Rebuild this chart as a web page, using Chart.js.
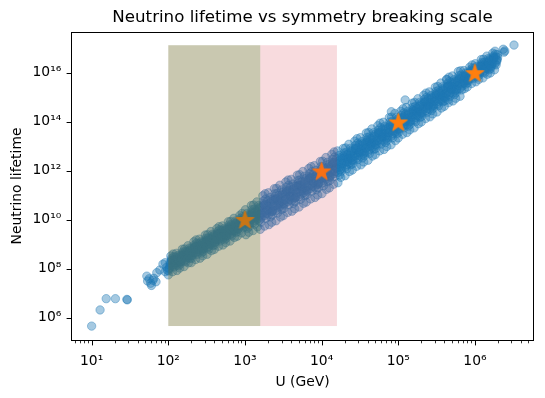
<!DOCTYPE html>
<html>
<head>
<meta charset="utf-8">
<script src="https://cdn.jsdelivr.net/npm/chart.js@4.4.1/dist/chart.umd.min.js"></script>
<style>
html,body{margin:0;padding:0;background:#ffffff;}
#box{position:relative;width:545px;height:398px;}
</style>
</head>
<body>
<div id="box"><canvas id="chart" width="545" height="398"></canvas></div>
<script>
// ---------------- data (log10 of U in GeV, log10 of lifetime) ----------------
const logU = [
1.00,1.11,1.19,1.31,1.46,1.465,1.72,1.73,1.77,1.78,1.81,1.84,1.85,1.89,1.93,1.96,1.96,1.80,1.75,1.98,1.99,
2.000,2.027,2.013,2.040,2.006,2.033,2.020,2.046, 2.010,2.023,2.036,2.043,
2.050,2.077,2.063,2.090,2.056,2.083,2.070,2.096, 2.060,2.073,2.086,2.093,
2.100,2.127,2.113,2.140,2.106,2.133,2.120,2.146, 2.110,2.123,2.136,2.143,
2.150,2.177,2.163,2.190,2.156,2.183,2.170,2.196, 2.160,2.173,2.186,2.193,
2.200,2.227,2.213,2.240,2.206,2.233,2.220,2.246, 2.210,2.223,2.236,2.243,
2.250,2.277,2.263,2.290,2.256,2.283,2.270,2.296, 2.260,2.273,2.286,2.293,
2.300,2.327,2.313,2.340,2.306,2.333,2.320,2.346, 2.310,2.323,2.336,2.343,
2.350,2.377,2.363,2.390,2.356,2.383,2.370,2.396, 2.360,2.373,2.386,2.393,
2.400,2.427,2.413,2.440,2.406,2.433,2.420,2.446, 2.410,2.423,2.436,2.443,
2.450,2.477,2.463,2.490,2.456,2.483,2.470,2.496, 2.460,2.473,2.486,2.493,
2.500,2.527,2.513,2.540,2.506,2.533,2.520,2.546, 2.510,2.523,2.536,2.543,
2.550,2.577,2.563,2.590,2.556,2.583,2.570,2.596, 2.560,2.573,2.586,2.593,
2.600,2.627,2.613,2.640,2.606,2.633,2.620,2.646, 2.610,2.623,2.636,2.643,
2.650,2.677,2.663,2.690,2.656,2.683,2.670,2.696, 2.660,2.673,2.686,2.693,
2.700,2.727,2.713,2.740,2.706,2.733,2.720,2.746, 2.710,2.723,2.736,2.743,
2.750,2.777,2.763,2.790,2.756,2.783,2.770,2.796, 2.760,2.773,2.786,2.793,
2.800,2.827,2.813,2.840,2.806,2.833,2.820,2.846, 2.810,2.823,2.836,2.843,
2.850,2.877,2.863,2.890,2.856,2.883,2.870,2.896, 2.860,2.873,2.886,2.893,
2.900,2.927,2.913,2.940,2.906,2.933,2.920,2.946, 2.910,2.923,2.936,2.943,
2.950,2.977,2.963,2.990,2.956,2.983,2.970,2.996, 2.960,2.973,2.986,2.993,
3.000,3.027,3.013,3.040,3.006,3.033,3.020,3.046, 3.010,3.023,3.036,3.043,
3.050,3.077,3.063,3.090,3.056,3.083,3.070,3.096, 3.060,3.073,3.086,3.093,
3.100,3.127,3.113,3.140,3.106,3.133,3.120,3.146, 3.110,3.123,3.136,3.143,
3.150,3.177,3.163,3.190,3.156,3.183,3.170,3.196, 3.160,3.173,3.186,3.193,
3.200,3.227,3.213,3.240,3.206,3.233,3.220,3.246, 3.210,3.223,3.236,3.243,
3.250,3.277,3.263,3.290,3.256,3.283,3.270,3.296, 3.260,3.273,3.286,3.293,
3.300,3.327,3.313,3.340,3.306,3.333,3.320,3.346, 3.310,3.323,3.336,3.343,
3.350,3.377,3.363,3.390,3.356,3.383,3.370,3.396, 3.360,3.373,3.386,3.393,
3.400,3.427,3.413,3.440,3.406,3.433,3.420,3.446, 3.410,3.423,3.436,3.443,
3.450,3.477,3.463,3.490,3.456,3.483,3.470,3.496, 3.460,3.473,3.486,3.493,
3.500,3.527,3.513,3.540,3.506,3.533,3.520,3.546, 3.510,3.523,3.536,3.543,
3.550,3.577,3.563,3.590,3.556,3.583,3.570,3.596, 3.560,3.573,3.586,3.593,
3.600,3.627,3.613,3.640,3.606,3.633,3.620,3.646, 3.610,3.623,3.636,3.643,
3.650,3.677,3.663,3.690,3.656,3.683,3.670,3.696, 3.660,3.673,3.686,3.693,
3.700,3.727,3.713,3.740,3.706,3.733,3.720,3.746, 3.710,3.723,3.736,3.743,
3.750,3.777,3.763,3.790,3.756,3.783,3.770,3.796, 3.760,3.773,3.786,3.793,
3.800,3.827,3.813,3.840,3.806,3.833,3.820,3.846, 3.810,3.823,3.836,3.843,
3.850,3.877,3.863,3.890,3.856,3.883,3.870,3.896, 3.860,3.873,3.886,3.893,
3.900,3.927,3.913,3.940,3.906,3.933,3.920,3.946, 3.910,3.923,3.936,3.943,
3.950,3.977,3.963,3.990,3.956,3.983,3.970,3.996, 3.960,3.973,3.986,3.993,
4.000,4.027,4.013,4.040,4.006,4.033,4.020,4.046, 4.010,4.023,4.036,4.043,
4.050,4.077,4.063,4.090,4.056,4.083,4.070,4.096, 4.060,4.073,4.086,4.093,
4.100,4.127,4.113,4.140,4.106,4.133,4.120,4.146, 4.110,4.123,4.136,4.143,
4.150,4.177,4.163,4.190,4.156,4.183,4.170,4.196, 4.160,4.173,4.186,4.193,
4.200,4.227,4.213,4.240,4.206,4.233,4.220,4.246, 4.210,4.223,4.236,4.243,
4.250,4.277,4.263,4.290,4.256,4.283,4.270,4.296, 4.260,4.273,4.286,4.293,
4.300,4.327,4.313,4.340,4.306,4.333,4.320,4.346, 4.310,4.323,4.336,4.343,
4.350,4.377,4.363,4.390,4.356,4.383,4.370,4.396, 4.360,4.373,4.386,4.393,
4.400,4.427,4.413,4.440,4.406,4.433,4.420,4.446, 4.410,4.423,4.436,4.443,
4.450,4.477,4.463,4.490,4.456,4.483,4.470,4.496, 4.460,4.473,4.486,4.493,
4.500,4.527,4.513,4.540,4.506,4.533,4.520,4.546, 4.510,4.523,4.536,4.543,
4.550,4.577,4.563,4.590,4.556,4.583,4.570,4.596, 4.560,4.573,4.586,4.593,
4.600,4.627,4.613,4.640,4.606,4.633,4.620,4.646, 4.610,4.623,4.636,4.643,
4.650,4.677,4.663,4.690,4.656,4.683,4.670,4.696, 4.660,4.673,4.686,4.693,
4.700,4.727,4.713,4.740,4.706,4.733,4.720,4.746, 4.710,4.723,4.736,4.743,
4.750,4.777,4.763,4.790,4.756,4.783,4.770,4.796, 4.760,4.773,4.786,4.793,
4.800,4.827,4.813,4.840,4.806,4.833,4.820,4.846, 4.810,4.823,4.836,4.843,
4.850,4.877,4.863,4.890,4.856,4.883,4.870,4.896, 4.860,4.873,4.886,4.893,
4.900,4.927,4.913,4.940,4.906,4.933,4.920,4.946, 4.910,4.923,4.936,4.943,
4.950,4.977,4.963,4.990,4.956,4.983,4.970,4.996, 4.960,4.973,4.986,4.993,
5.000,5.027,5.013,5.040,5.006,5.033,5.020,5.046, 5.010,5.023,5.036,5.043,
5.050,5.077,5.063,5.090,5.056,5.083,5.070,5.096, 5.060,5.073,5.086,5.093,
5.100,5.127,5.113,5.140,5.106,5.133,5.120,5.146, 5.110,5.123,5.136,5.143,
5.150,5.177,5.163,5.190,5.156,5.183,5.170,5.196, 5.160,5.173,5.186,5.193,
5.200,5.227,5.213,5.240,5.206,5.233,5.220,5.246, 5.210,5.223,5.236,5.243,
5.250,5.277,5.263,5.290,5.256,5.283,5.270,5.296, 5.260,5.273,5.286,5.293,
5.300,5.327,5.313,5.340,5.306,5.333,5.320,5.346, 5.310,5.323,5.336,5.343,
5.350,5.377,5.363,5.390,5.356,5.383,5.370,5.396, 5.360,5.373,5.386,5.393,
5.400,5.427,5.413,5.440,5.406,5.433,5.420,5.446, 5.410,5.423,5.436,5.443,
5.450,5.477,5.463,5.490,5.456,5.483,5.470,5.496, 5.460,5.473,5.486,5.493,
5.500,5.527,5.513,5.540,5.506,5.533,5.520,5.546, 5.510,5.523,5.536,5.543,
5.550,5.577,5.563,5.590,5.556,5.583,5.570,5.596, 5.560,5.573,5.586,5.593,
5.600,5.627,5.613,5.640,5.606,5.633,5.620,5.646, 5.610,5.623,5.636,5.643,
5.650,5.677,5.663,5.690,5.656,5.683,5.670,5.696, 5.660,5.673,5.686,5.693,
5.700,5.727,5.713,5.740,5.706,5.733,5.720,5.746, 5.710,5.723,5.736,5.743,
5.750,5.777,5.763,5.790,5.756,5.783,5.770,5.796, 5.760,5.773,5.786,5.793,
5.800,5.827,5.813,5.840,5.806,5.833,5.820,5.846, 5.810,5.823,5.836,5.843,
5.850,5.877,5.863,5.890,5.856,5.883,5.870,5.896, 5.860,5.873,5.886,5.893,
5.900,5.927,5.913,5.940,5.906,5.933,5.920,5.946, 5.910,5.923,5.936,5.943,
5.950,5.977,5.963,5.990,5.956,5.983,5.970,5.996, 5.960,5.973,5.986,5.993,
6.000,6.027,6.013,6.040,6.006,6.033,6.020,6.046, 6.010,6.023,6.036,6.043,
6.050,6.077,6.063,6.090,6.056,6.083,6.070,6.096, 6.060,6.073,6.086,6.093,
6.100,6.127,6.113,6.140,6.106,6.133,6.120,6.146, 6.110,6.123,6.136,6.143,
6.150,6.177,6.163,6.190,6.156,6.183,6.170,6.196, 6.160,6.173,6.186,6.193,
6.200,6.227,6.213,6.240,6.206,6.233,6.220,6.246, 6.210,6.223,6.236,6.243,
6.250,6.277,6.263,6.290,6.256,6.283,6.270,6.296, 6.260,6.273,6.286,6.293,
4.91,5.09,5.63,5.65,
6.37,6.38,6.39,6.51
];
const logTau = [
5.65,6.31,6.77,6.77,6.74,6.72,7.69,7.49,7.40,7.31,7.60,7.46,7.83,7.94,8.18,8.24,7.87,7.52,7.58,8.05,7.93,
7.74,8.19,8.01,8.40,7.90,8.51,8.11,8.30, 7.98,8.25,8.12,8.35,
8.33,8.06,8.59,8.27,7.87,8.17,8.48,8.35, 8.10,8.37,8.24,8.47,
8.23,8.53,7.92,8.45,8.62,8.11,8.34,8.24, 8.14,8.41,8.28,8.51,
8.02,8.47,8.29,8.68,8.18,8.79,8.39,8.58, 8.26,8.53,8.40,8.63,
8.54,8.27,8.80,8.48,8.08,8.38,8.69,8.56, 8.31,8.58,8.45,8.68,
8.54,8.84,8.23,8.76,8.93,8.42,8.65,8.55, 8.45,8.72,8.59,8.82,
8.24,8.73,8.54,8.96,8.42,9.09,8.65,8.86, 8.52,8.79,8.66,8.89,
8.89,8.58,9.17,8.81,8.37,8.70,9.04,8.89, 8.64,8.91,8.78,9.01,
8.77,9.09,8.42,9.01,9.20,8.63,8.88,8.77, 8.68,8.95,8.82,9.05,
8.52,9.01,8.82,9.24,8.70,9.37,8.93,9.14, 8.80,9.07,8.94,9.17,
9.10,8.79,9.38,9.02,8.58,8.91,9.25,9.10, 8.85,9.12,8.99,9.22,
9.08,9.40,8.73,9.32,9.51,8.94,9.19,9.08, 8.99,9.26,9.13,9.36,
8.78,9.27,9.08,9.50,8.96,9.63,9.19,9.40, 9.06,9.33,9.20,9.43,
9.43,9.12,9.71,9.35,8.91,9.24,9.58,9.43, 9.18,9.45,9.32,9.55,
9.31,9.63,8.96,9.55,9.74,9.17,9.42,9.31, 9.22,9.49,9.36,9.59,
9.06,9.55,9.36,9.78,9.24,9.91,9.47,9.68, 9.34,9.61,9.48,9.71,
9.64,9.33,9.92,9.56,9.12,9.45,9.79,9.64, 9.39,9.66,9.53,9.76,
9.62,9.94,9.27,9.86,10.05,9.48,9.73,9.62, 9.53,9.80,9.67,9.90,
9.32,9.81,9.62,10.04,9.50,10.17,9.73,9.94, 9.60,9.87,9.74,9.97,
9.97,9.66,10.25,9.89,9.45,9.78,10.12,9.97, 9.72,9.99,9.86,10.09,
9.84,10.25,9.38,10.13,10.40,9.64,9.98,9.82, 9.70,10.07,9.88,10.19,
9.48,10.11,9.87,10.40,9.71,10.57,10.00,10.26, 9.82,10.19,10.00,10.31,
10.23,9.81,10.59,10.10,9.55,9.97,10.42,10.21, 9.88,10.25,10.06,10.37,
10.16,10.57,9.70,10.45,10.72,9.96,10.30,10.14, 10.02,10.39,10.20,10.51,
9.60,10.39,10.09,10.76,9.89,10.97,10.25,10.57, 10.04,10.50,10.26,10.64,
10.60,10.05,11.05,10.41,9.73,10.25,10.84,10.55, 10.16,10.62,10.38,10.76,
10.38,10.90,9.79,10.73,11.09,10.11,10.55,10.33, 10.21,10.67,10.43,10.81,
9.89,10.68,10.38,11.05,10.18,11.26,10.54,10.86, 10.33,10.79,10.55,10.93,
10.82,10.27,11.27,10.63,9.95,10.47,11.06,10.77, 10.38,10.84,10.60,10.98,
10.69,11.21,10.10,11.04,11.40,10.42,10.86,10.64, 10.52,10.98,10.74,11.12,
10.16,10.95,10.65,11.32,10.45,11.53,10.81,11.13, 10.60,11.06,10.82,11.20,
11.16,10.61,11.61,10.97,10.29,10.81,11.40,11.11, 10.72,11.18,10.94,11.32,
10.93,11.45,10.34,11.28,11.64,10.66,11.10,10.88, 10.76,11.22,10.98,11.36,
10.44,11.23,10.93,11.60,10.73,11.81,11.09,11.41, 10.88,11.34,11.10,11.48,
11.38,10.83,11.83,11.19,10.51,11.03,11.62,11.33, 10.94,11.40,11.16,11.54,
11.25,11.77,10.66,11.60,11.96,10.98,11.42,11.20, 11.08,11.54,11.30,11.68,
10.71,11.50,11.20,11.87,11.00,12.08,11.36,11.68, 11.15,11.61,11.37,11.75,
11.71,11.16,12.16,11.52,10.84,11.36,11.95,11.66, 11.27,11.73,11.49,11.87,
11.49,12.01,10.90,11.84,12.20,11.22,11.66,11.44, 11.32,11.78,11.54,11.92,
11.00,11.79,11.49,12.16,11.29,12.37,11.65,11.97, 11.44,11.90,11.66,12.04,
11.93,11.38,12.38,11.74,11.06,11.58,12.17,11.88, 11.49,11.95,11.71,12.09,
11.82,12.34,11.23,12.17,12.53,11.55,11.99,11.77, 11.65,12.11,11.87,12.25,
11.29,12.08,11.78,12.45,11.58,12.66,11.94,12.26, 11.73,12.19,11.95,12.33,
12.31,11.76,12.76,12.12,11.44,11.96,12.55,12.26, 11.87,12.33,12.09,12.47,
12.09,12.61,11.50,12.44,12.80,11.82,12.26,12.04, 11.92,12.38,12.14,12.52,
11.72,12.40,12.14,12.72,11.97,12.90,12.28,12.56, 12.09,12.49,12.29,12.62,
12.53,12.07,12.92,12.38,11.79,12.24,12.74,12.50, 12.15,12.55,12.35,12.68,
12.46,12.91,11.96,12.77,13.07,12.24,12.61,12.43, 12.31,12.71,12.51,12.84,
12.02,12.70,12.44,13.02,12.27,13.20,12.58,12.86, 12.39,12.79,12.59,12.92,
12.91,12.45,13.30,12.76,12.17,12.62,13.12,12.88, 12.53,12.93,12.73,13.06,
12.73,13.18,12.23,13.04,13.34,12.51,12.88,12.70, 12.58,12.98,12.78,13.11,
12.35,13.03,12.77,13.35,12.60,13.53,12.91,13.19, 12.72,13.12,12.92,13.25,
13.16,12.70,13.55,13.01,12.42,12.87,13.37,13.13, 12.78,13.18,12.98,13.31,
13.09,13.54,12.59,13.40,13.70,12.87,13.24,13.06, 12.94,13.34,13.14,13.47,
12.65,13.33,13.07,13.65,12.90,13.83,13.21,13.49, 13.02,13.42,13.22,13.55,
13.54,13.08,13.93,13.39,12.80,13.25,13.75,13.51, 13.16,13.56,13.36,13.69,
13.36,13.81,12.86,13.67,13.97,13.14,13.51,13.33, 13.21,13.61,13.41,13.74,
12.98,13.66,13.40,13.98,13.23,14.16,13.54,13.82, 13.35,13.75,13.55,13.88,
13.79,13.33,14.18,13.64,13.05,13.50,14.00,13.76, 13.41,13.81,13.61,13.94,
13.72,14.17,13.22,14.03,14.33,13.50,13.87,13.69, 13.57,13.97,13.77,14.10,
13.33,13.96,13.72,14.25,13.56,14.42,13.85,14.11, 13.67,14.04,13.85,14.16,
14.16,13.74,14.52,14.03,13.48,13.90,14.35,14.14, 13.81,14.18,13.99,14.30,
14.01,14.42,13.55,14.30,14.57,13.81,14.15,13.99, 13.87,14.24,14.05,14.36,
13.66,14.29,14.05,14.58,13.89,14.75,14.18,14.44, 14.00,14.37,14.18,14.49,
14.42,14.00,14.78,14.29,13.74,14.16,14.61,14.40, 14.07,14.44,14.25,14.56,
14.37,14.78,13.91,14.66,14.93,14.17,14.51,14.35, 14.23,14.60,14.41,14.72,
13.98,14.61,14.37,14.90,14.21,15.07,14.50,14.76, 14.32,14.69,14.50,14.81,
14.80,14.38,15.16,14.67,14.12,14.54,14.99,14.78, 14.45,14.82,14.63,14.94,
14.65,15.06,14.19,14.94,15.21,14.45,14.79,14.63, 14.51,14.88,14.69,15.00,
14.31,14.94,14.70,15.23,14.54,15.40,14.83,15.09, 14.65,15.02,14.83,15.14,
15.07,14.65,15.43,14.94,14.39,14.81,15.26,15.05, 14.72,15.09,14.90,15.21,
15.01,15.42,14.55,15.30,15.57,14.81,15.15,14.99, 14.87,15.24,15.05,15.36,
14.62,15.25,15.01,15.54,14.85,15.71,15.14,15.40, 14.96,15.33,15.14,15.45,
15.45,15.03,15.81,15.32,14.77,15.19,15.64,15.43, 15.10,15.47,15.28,15.59,
15.30,15.71,14.84,15.59,15.86,15.10,15.44,15.28, 15.16,15.53,15.34,15.65,
14.95,15.58,15.34,15.87,15.18,16.04,15.47,15.73, 15.29,15.66,15.47,15.78,
15.71,15.29,16.07,15.58,15.03,15.45,15.90,15.69, 15.36,15.73,15.54,15.85,
15.67,15.98,15.34,15.90,16.08,15.53,15.78,15.68, 15.57,15.85,15.72,15.95,
15.41,15.88,15.70,16.10,15.58,16.22,15.80,16.00, 15.66,15.94,15.81,16.04,
16.04,15.75,16.31,15.97,15.55,15.87,16.19,16.05, 15.79,16.07,15.94,16.17,
15.95,16.26,15.62,16.18,16.36,15.81,16.06,15.96, 15.85,16.13,16.00,16.23,
15.72,16.19,16.01,16.41,15.89,16.53,16.11,16.31, 15.97,16.25,16.12,16.35,
16.27,15.98,16.54,16.20,15.78,16.10,16.42,16.28, 16.02,16.30,16.17,16.40,
16.26,16.57,15.93,16.49,16.67,16.12,16.37,16.27, 16.16,16.44,16.31,16.54,
15.98,16.45,16.27,16.67,16.15,16.79,16.37,16.57, 16.23,16.51,16.38,16.61,
16.60,16.31,16.87,16.53,16.11,16.43,16.75,16.61, 16.35,16.63,16.50,16.73,
14.40,14.88,15.72,14.88,
16.95,16.83,16.88,17.12
];
// benchmark points (stars)
const starU = [1e3, 1e4, 1e5, 1e6];
const starTau = [1.0e10, 9.6e11, 9.6e13, 9.8e15];
// shaded U ranges and their lifetime extent
const spanU = [[100, 1585], [1585, 15849]];
const spanTau = [4.5e5, 1.3e17];
const spanColors = ['rgba(105,103,36,0.36)', 'rgba(214,39,60,0.17)'];
// axis ticks
const xTicks = [1e1, 1e2, 1e3, 1e4, 1e5, 1e6];
const xTickLabels = ['10\u00b9', '10\u00b2', '10\u00b3', '10\u2074', '10\u2075', '10\u2076'];
const yTicks = [1e6, 1e8, 1e10, 1e12, 1e14, 1e16];
const yTickLabels = ['10\u2076', '10\u2078', '10\u00b9\u2070', '10\u00b9\u00b2', '10\u00b9\u2074', '10\u00b9\u2076'];
const xRange = [5.38, 5.9e6];
const yRange = [1.21e5, 4.5e17];

// ---------------- rendering ----------------
Chart.defaults.font.family = "'DejaVu Sans', sans-serif";
Chart.defaults.color = '#000';

function makeStar(R, color) {
  const s = Math.ceil(2 * R + 6);
  const c = document.createElement('canvas');
  c.width = s; c.height = s;
  const g = c.getContext('2d');
  g.translate(s / 2, s / 2 + R * 0.1);
  g.beginPath();
  for (let k = 0; k < 10; k++) {
    const r = (k % 2) ? R * 0.381966 : R;
    const a = -Math.PI / 2 + k * Math.PI / 5;
    g.lineTo(r * Math.cos(a), r * Math.sin(a));
  }
  g.closePath();
  g.fillStyle = color; g.fill();
  g.lineWidth = 1.2; g.lineJoin = 'round'; g.strokeStyle = color; g.stroke();
  return c;
}
const starImg = makeStar(9.2, '#ff7f0e');

const scatterPts = logU.map((u, i) => ({x: Math.pow(10, u), y: Math.pow(10, logTau[i])}));
const starPts = starU.map((u, i) => ({x: u, y: starTau[i]}));

const spanPlugin = {
  id: 'spans',
  afterDatasetsDraw(chart) {
    const {ctx, chartArea: a, scales: {x, y}} = chart;
    ctx.save();
    ctx.beginPath();
    ctx.rect(a.left, a.top, a.right - a.left, a.bottom - a.top);
    ctx.clip();
    spanU.forEach((s, i) => {
      const x0 = x.getPixelForValue(s[0]), x1 = x.getPixelForValue(s[1]);
      const y0 = y.getPixelForValue(spanTau[1]), y1 = y.getPixelForValue(spanTau[0]);
      ctx.fillStyle = spanColors[i];
      ctx.fillRect(x0, y0, x1 - x0, y1 - y0);
    });
    ctx.restore();
  }
};

const framePlugin = {
  id: 'frame',
  afterDraw(chart) {
    const {ctx, chartArea: a, scales: {x, y}} = chart;
    const L = Math.floor(a.left) + 0.5, R = Math.floor(a.right) - 0.5;
    const T = Math.floor(a.top) + 0.5, B = Math.floor(a.bottom) + 0.5;
    ctx.save();
    ctx.strokeStyle = '#000';
    ctx.lineWidth = 1;
    ctx.strokeRect(L, T, R - L, B - T);
    const seg = (x0, y0, x1, y1) => { ctx.beginPath(); ctx.moveTo(x0, y0); ctx.lineTo(x1, y1); ctx.stroke(); };
    xTicks.forEach(v => { const p = Math.round(x.getPixelForValue(v)) + 0.5; seg(p, B, p, B + 4.9); });
    yTicks.forEach(v => { const p = Math.round(y.getPixelForValue(v)) + 0.5; seg(L, p, L - 4.9, p); });
    ctx.lineWidth = 0.8;
    for (let d = 1; d <= 1e6; d *= 10) {
      for (let k = 2; k <= 9; k++) {
        const v = k * d;
        if (v <= xRange[0] || v >= xRange[1]) continue;
        const p = Math.round(x.getPixelForValue(v)) + 0.5;
        seg(p, B, p, B + 2.8);
      }
    }
    ctx.restore();
  }
};

new Chart(document.getElementById('chart'), {
  type: 'scatter',
  data: {
    datasets: [
      {label: 'benchmark', data: starPts, pointStyle: starImg, pointRadius: 10, order: 0},
      {label: 'scan', data: scatterPts, pointRadius: 4.2, pointBorderWidth: 1,
       backgroundColor: 'rgba(31,119,180,0.4)', borderColor: 'rgba(31,119,180,0.4)', order: 1}
    ]
  },
  options: {
    responsive: false, animation: false, devicePixelRatio: 1,
    layout: {padding: {left: 0, right: 8, top: 0, bottom: 0}},
    plugins: {
      legend: {display: false}, tooltip: {enabled: false},
      title: {display: true, text: 'Neutrino lifetime vs symmetry breaking scale', fullSize: false,
              color: '#000', font: {size: 16.67, weight: 'normal', lineHeight: 1.2}, padding: {top: 8, bottom: 4}}
    },
    scales: {
      x: {
        type: 'logarithmic', min: xRange[0], max: xRange[1],
        afterBuildTicks: s => { s.ticks = xTicks.map(v => ({value: v})); },
        afterFit: s => { s.height = 58; },
        grid: {display: false, drawTicks: false}, border: {display: false},
        ticks: {autoSkip: false, maxRotation: 0, minRotation: 0, padding: 12.9, font: {size: 13.89},
                callback: (v, i) => xTickLabels[i]},
        title: {display: true, text: 'U (GeV)', font: {size: 13.89}, padding: {top: 0, bottom: 7.7}}
      },
      y: {
        type: 'logarithmic', min: yRange[0], max: yRange[1],
        afterBuildTicks: s => { s.ticks = yTicks.map(v => ({value: v})); },
        afterFit: s => { s.width = 71; },
        grid: {display: false, drawTicks: false}, border: {display: false},
        ticks: {autoSkip: false, padding: 9.7, font: {size: 13.89},
                callback: (v, i) => yTickLabels[i]},
        title: {display: true, text: 'Neutrino lifetime', font: {size: 13.89}, padding: {top: 8.7, bottom: 0}}
      }
    }
  },
  plugins: [spanPlugin, framePlugin]
});
</script>
</body>
</html>
